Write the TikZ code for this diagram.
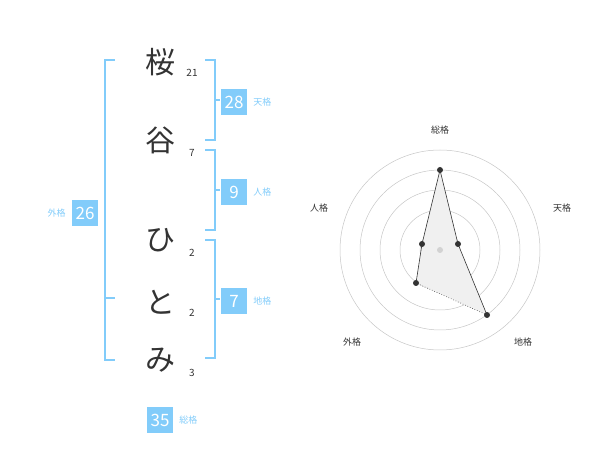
\documentclass[tikz,border=0pt]{standalone}
\usepackage{fontspec}
\setmainfont{Noto Sans CJK JP}
\usetikzlibrary{positioning}
\definecolor{kaku}{HTML}{82CCFA}
\definecolor{ink}{HTML}{333333}
\tikzset{
  moji/.style={text=ink,font=\fontsize{30}{30}\selectfont,inner sep=0pt},
  kakusu/.style={text=ink,font=\fontsize{10}{10}\selectfont,inner sep=0pt},
  numbox/.style={fill=kaku,text=white,minimum size=26pt,inner sep=0pt,font=\fontsize{17}{17}\selectfont},
  kname/.style={text=kaku,font=\fontsize{9}{9}\selectfont,inner sep=0pt},
  bracket/.style={draw=kaku,line width=1.2pt},
  ring/.style={draw=gray!45,line width=0.5pt},
  rlabel/.style={text=ink,font=\fontsize{9}{9}\selectfont,inner sep=0pt},
  dot/.style={circle,fill=ink,inner sep=0pt,minimum size=6pt}
}
\begin{document}
\begin{tikzpicture}[x=1pt,y=-1pt]
  \useasboundingbox (0,0) rectangle (600,470);
  % name characters and stroke counts
  \node[moji] (c1) at (160,62) {桜};
  \node[moji] (c2) at (160,140) {谷};
  \node[moji] (c3) at (160,240) {ひ};
  \node[moji] (c4) at (160,302) {と};
  \node[moji] (c5) at (160,360) {み};
  \node[kakusu] (s1) at (192,73) {21};
  \node[kakusu] (s2) at (192,153) {7};
  \node[kakusu] (s3) at (192,253) {2};
  \node[kakusu] (s4) at (192,313) {2};
  \node[kakusu] (s5) at (192,373) {3};
  % brackets
  \draw[bracket] (115,60) -- (105,60) -- (105,360) -- (115,360);
  \draw[bracket] (105,298) -- (115,298);
  \draw[bracket] (205,60) -- (215,60) -- (215,140) -- (205,140);
  \draw[bracket] (205,150) -- (215,150) -- (215,230) -- (205,230);
  \draw[bracket] (205,240) -- (215,240) -- (215,358) -- (205,358);
  \draw[bracket] (215,100) -- (220,100);
  \draw[bracket] (215,190) -- (220,190);
  \draw[bracket] (215,299) -- (220,299);
  % frame values
  \node[numbox] (ten) at (234,102) {28};
  \node[kname,right=6pt of ten] (tenl) {天格};
  \node[numbox] (jin) at (234,192) {9};
  \node[kname,right=6pt of jin] (jinl) {人格};
  \node[numbox] (chi) at (234,301) {7};
  \node[kname,right=6pt of chi] (chil) {地格};
  \node[numbox] (gai) at (85,213) {26};
  \node[kname,left=6pt of gai] (gail) {外格};
  \node[numbox] (sou) at (160,420) {35};
  \node[kname,right=6pt of sou] (soul) {総格};
  % radar chart
  \coordinate (o) at (440,250);
  \foreach \r in {20,40,60,80,100} \draw[ring] (o) circle (\r);
  \node[rlabel] at (440,130) {総格};
  \node[rlabel] at (562,208) {天格};
  \node[rlabel] at (523,342) {地格};
  \node[rlabel] at (352,342) {外格};
  \node[rlabel] at (319,208) {人格};
  \coordinate (p1) at (440,170);
  \coordinate (p2) at (458,244);
  \coordinate (p3) at (487,315);
  \coordinate (p4) at (416,283);
  \coordinate (p5) at (422,244);
  \fill[gray!12] (p1) -- (p2) -- (p3) -- (p4) -- (p5) -- cycle;
  \draw[ink,line width=0.6pt] (p1) -- (p2) -- (p3);
  \draw[ink,line width=0.6pt,dotted] (p3) -- (p4);
  \draw[ink,line width=0.6pt] (p4) -- (p5) -- (p1);
  \node[circle,fill=gray!35,inner sep=0pt,minimum size=6pt] at (o) {};
  \foreach \p in {p1,p2,p3,p4,p5} \node[dot] at (\p) {};
\end{tikzpicture}
\end{document}
